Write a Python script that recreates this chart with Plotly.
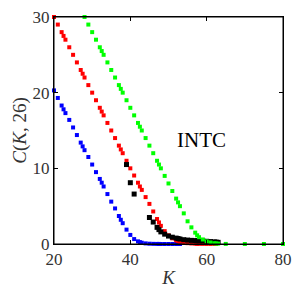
import plotly.graph_objects as go

# Blue model (K, C)
blue_K = [20, 21, 22, 22.5, 23, 24, 25, 26, 27, 27.5, 28, 29, 30, 31, 32, 32.5, 33, 34, 35, 36,
          37, 37.5, 38, 39, 40, 41, 42, 42.5, 43, 44, 45, 46, 47, 47.5, 48, 49, 50, 51, 52, 52.5, 53]
blue_C = [20.3, 19.3, 18.3, 17.8, 17.3, 16.4, 15.4, 14.4, 13.4, 12.9, 12.4, 11.5, 10.5, 9.5, 8.6, 8.1,
          7.6, 6.6, 5.6, 4.7, 3.7, 3.2, 2.75, 1.9, 1.2, 0.65, 0.35, 0.25, 0.17, 0.08, 0.04, 0.02,
          0.01, 0.01, 0.0, 0.0, 0.0, 0.0, 0.0, 0.0, 0.0]

# Red model
red_K = [20, 21, 22, 22.5, 23, 24, 25, 26, 27, 27.5, 28, 29, 30, 31, 32, 32.5, 33, 34, 35, 36,
         37, 37.5, 38, 39, 40, 41, 42, 42.5, 43, 44, 45, 46, 47, 47.5, 48, 49, 50, 51, 52, 52.5,
         53, 54, 55, 56, 57, 57.5, 58, 59, 60, 61, 62, 62.5]
red_C = [30.0, 29.0, 28.0, 27.5, 27.0, 26.0, 25.0, 24.0, 23.0, 22.5, 22.0, 21.0, 20.0, 19.0, 18.0,
         17.5, 17.0, 16.0, 15.0, 14.0, 13.0, 12.5, 12.0, 11.0, 10.0, 9.05, 8.1, 7.6, 7.15, 6.2,
         5.3, 4.3, 3.3, 2.85, 2.4, 1.7, 1.15, 0.75, 0.48, 0.38, 0.3, 0.18, 0.11, 0.07, 0.04, 0.03,
         0.02, 0.015, 0.01, 0.005, 0.0, 0.0]

# Green model
green_K = [28, 29, 30, 31, 32, 32.5, 33, 34, 35, 36, 37, 37.5, 38, 39, 40, 41, 42, 42.5, 43, 44,
           45, 46, 47, 47.5, 48, 49, 50, 51, 52, 52.5, 53, 54, 55, 56, 57, 57.5, 58, 59, 60, 61,
           62, 62.5, 63, 65, 70, 75, 80]
green_C = [30.0, 29.0, 28.0, 27.0, 26.0, 25.5, 25.0, 24.0, 23.0, 22.0, 21.0, 20.5, 20.0, 19.0, 18.0,
           17.0, 16.0, 15.5, 15.0, 14.0, 13.0, 12.0, 11.0, 10.5, 10.0, 9.0, 8.0, 7.0, 6.0, 5.5,
           5.0, 4.05, 3.0, 2.2, 1.5, 1.15, 0.9, 0.6, 0.35, 0.2, 0.1, 0.07, 0.05, 0.01, 0.0, 0.0, 0.0]

# Market data (black)
mkt_K = [39, 40, 41, 45, 46, 47, 47.5, 48, 49, 50, 51, 52, 52.5, 53, 54, 55, 56, 57, 57.5, 58,
         59, 60, 61, 62, 62.5, 63]
mkt_C = [10.5, 8.1, 6.6, 3.5, 2.9, 2.2, 1.9, 1.6, 1.3, 1.05, 0.9, 0.78, 0.72, 0.66, 0.57, 0.52,
         0.48, 0.45, 0.44, 0.42, 0.4, 0.36, 0.32, 0.28, 0.25, 0.22]

x_ticks = [20, 40, 60, 80]
y_ticks = [0, 10, 20, 30]
x_range = [20, 80]
y_range = [0, 30]
label_text = "INTC"

fig = go.Figure()
fig.add_trace(go.Scatter(x=blue_K, y=blue_C, mode="markers", cliponaxis=False,
                         marker=dict(symbol="square", size=4, color="#0000ff")))
fig.add_trace(go.Scatter(x=red_K, y=red_C, mode="markers", cliponaxis=False,
                         marker=dict(symbol="square", size=4, color="#ff0000")))
fig.add_trace(go.Scatter(x=mkt_K, y=mkt_C, mode="markers", cliponaxis=False,
                         marker=dict(symbol="square", size=5, color="#000000")))
fig.add_trace(go.Scatter(x=green_K, y=green_C, mode="markers", cliponaxis=False,
                         marker=dict(symbol="square", size=4, color="#00ff00")))

fig.add_annotation(x=58.7, y=13.8, text=label_text, showarrow=False,
                   font=dict(family="Liberation Serif", size=21, color="#000000"))

# box around plot area
fig.add_shape(type="rect", xref="x domain", yref="y domain", x0=0, x1=1, y0=0, y1=1,
              line=dict(color="#000000", width=1), layer="above")

axis_common = dict(showgrid=False, zeroline=False, showline=True, linecolor="#000000",
                   linewidth=1, mirror="allticks", ticks="inside", ticklen=4, tickcolor="#000000",
                   automargin=False, ticklabeloverflow="allow",
                   tickfont=dict(family="Liberation Serif", size=17, color="#333333"))

fig.update_layout(
    width=292, height=292,
    margin=dict(l=46, r=17, t=9, b=56),
    paper_bgcolor="white", plot_bgcolor="white",
    showlegend=False,
    xaxis=dict(range=x_range, tickvals=x_ticks,
               title=dict(text="<i>K</i>", standoff=2,
                          font=dict(family="Liberation Serif", size=19, color="#333333")),
               **axis_common),
    yaxis=dict(range=y_range, tickvals=y_ticks,
               title=dict(text="<i>C</i>(<i>K</i>, 26)", standoff=0,
                          font=dict(family="Liberation Serif", size=19, color="#333333")),
               **axis_common),
)

fig.write_html("out.html")
